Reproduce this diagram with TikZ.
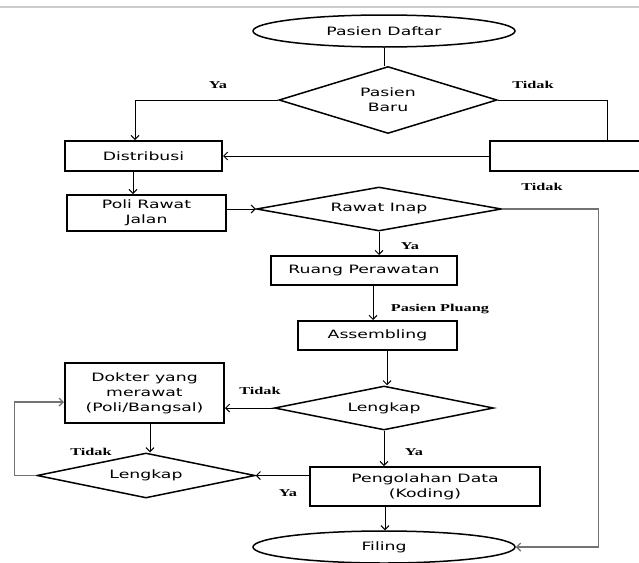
\documentclass[tikz,border=0pt]{standalone}
\usepackage{fontspec}
\usetikzlibrary{shapes.geometric,arrows.meta,calc}
\newfontfamily\boxfont[FakeStretch=1.5]{DejaVu Sans}
\newfontfamily\lblfont[FakeStretch=1.55]{Liberation Serif}
\begin{document}
\begin{tikzpicture}[x=1pt,y=-1pt,
  box/.style={draw, rectangle, line width=2pt, inner sep=0pt, align=center,
    font=\boxfont\fontsize{11.5}{15}\selectfont},
  dia/.style={draw, diamond, line width=1.5pt, inner sep=0pt, align=center,
    font=\boxfont\fontsize{11.5}{15}\selectfont},
  term/.style={draw, ellipse, line width=1.5pt, inner sep=0pt,
    minimum width=262pt, minimum height=32pt,
    font=\boxfont\fontsize{11.5}{15}\selectfont},
  conn/.style={line width=1pt},
  arr/.style={conn, -{Straight Barb[length=4pt,width=8pt]}},
  loopc/.style={draw=black!55, line width=1.4pt},
  lbl/.style={inner sep=0pt, font=\lblfont\bfseries\fontsize{10.5}{12}\selectfont}]
\clip (0,0) rectangle (639,562);
\draw[black!20, line width=2pt] (0,7) -- (639,7);

% nodes
\node[term] (pd) at (384,31) {Pasien Daftar};
\node[dia, minimum width=218pt, minimum height=67pt, aspect=3.25] (pb) at (388,100) {Pasien\\Baru};
\node[box, minimum width=170pt, minimum height=30pt] (emp) at (575,156) {};
\node[box, minimum width=157pt, minimum height=30pt] (dis) at (143.5,156) {Distribusi};
\node[box, minimum width=159pt, minimum height=36pt] (prj) at (146.5,213) {Poli Rawat\\Jalan};
\node[dia, minimum width=245pt, minimum height=44pt, aspect=5.5] (ri) at (379,209) {Rawat Inap};
\node[box, minimum width=186pt, minimum height=29pt] (rp) at (364,270.5) {Ruang Perawatan};
\node[box, minimum width=159pt, minimum height=29pt] (as) at (377.5,335.5) {Assembling};
\node[dia, minimum width=219pt, minimum height=44pt, aspect=5] (lk) at (384,408) {Lengkap};
\node[box, minimum width=159pt, minimum height=60pt] (dok) at (144.5,393) {Dokter yang\\merawat\\(Poli/Bangsal)};
\node[dia, minimum width=218pt, minimum height=45pt, aspect=4.85] (lk2) at (146,475.5) {Lengkap};
\node[box, minimum width=230pt, minimum height=39pt] (pgd) at (425,486.5) {Pengolahan Data\\(Koding)};
\node[term] (fil) at (384,547) {Filing};

% connectors
\draw[conn] (pd.south) -- (pd.south |- pb.north);
\draw[arr] (pb.west) -| ([xshift=-8.5pt]dis.north);
\draw[conn] (pb.east) -| ([xshift=32pt]emp.north);
\draw[arr] (emp.west) -- (dis.east);
\draw[arr] ([xshift=-10.5pt]dis.south) -- ([xshift=-10.5pt]dis.south |- prj.north);
\draw[arr] (ri.west -| prj.east) -- (ri.west);
\draw[arr] (ri.south) -- (ri.south |- rp.north);
\draw[arr] ([xshift=9pt]rp.south) -- ([xshift=9pt]rp.south |- as.north);
\draw[arr] ([xshift=9.5pt]as.south) -- ([xshift=9.5pt]as.south |- lk.north);
\draw[arr] (lk.west) -- (lk.west -| dok.east);
\draw[arr] ([xshift=5.5pt]dok.south) -- ([xshift=5.5pt]dok.south |- lk2.north);
\draw[arr, loopc] (lk2.west) -- ++(-22,0) |- ([yshift=-9pt]dok.west);
\draw[arr] (lk.south) -- (lk.south |- pgd.north);
\draw[arr] (lk2.east -| pgd.west) -- (lk2.east);
\draw[arr] ([xshift=-40pt]pgd.south) -- ([xshift=-40pt]pgd.south |- fil.north);
\draw[arr, loopc] (ri.east) -- ++(96,0) |- (fil.east);

% labels
\node[lbl] (l1) at (218,85) {Ya};
\node[lbl] (l2) at (533,85) {Tidak};
\node[lbl] (l3) at (542,187) {Tidak};
\node[lbl] (l4) at (410,246) {Ya};
\node[lbl] (l5) at (440,309) {Pasien Pluang};
\node[lbl] (l6) at (260,391) {Tidak};
\node[lbl] (l7) at (91,452) {Tidak};
\node[lbl] (l8) at (414,452) {Ya};
\node[lbl] (l9) at (288,493) {Ya};
\end{tikzpicture}
\end{document}
